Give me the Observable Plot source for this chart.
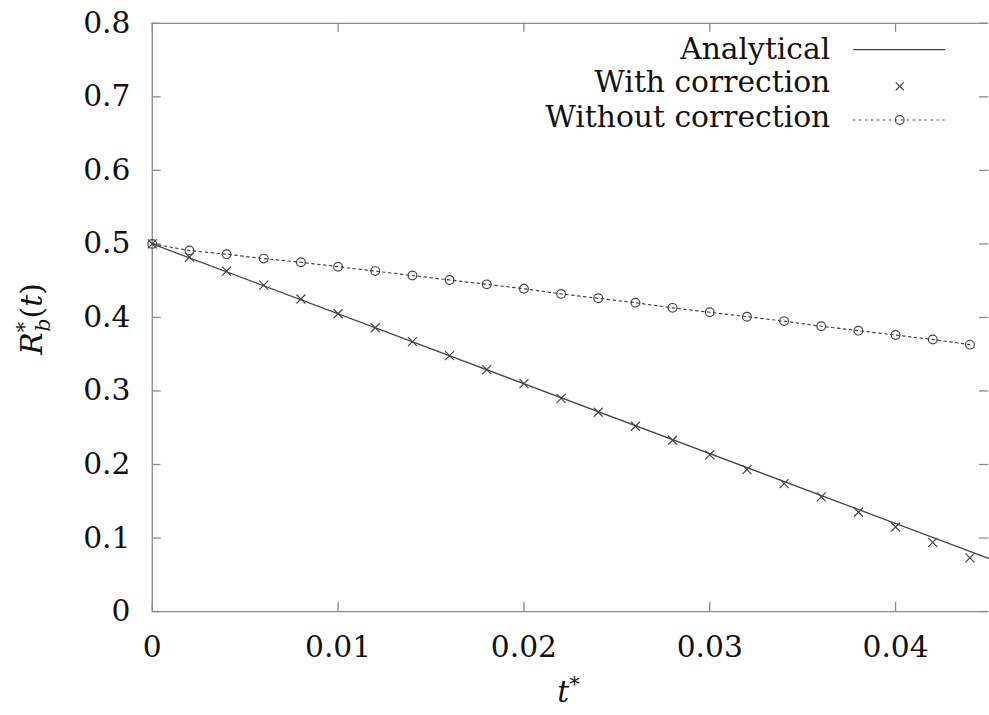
<!DOCTYPE html>
<html>
<head>
<meta charset="utf-8">
<script src="https://cdn.jsdelivr.net/npm/d3@7"></script>
<script src="https://cdn.jsdelivr.net/npm/@observablehq/plot@0.6"></script>
<style>
  html, body { margin: 0; padding: 0; background: #fff; overflow: hidden; }
  #chart svg { display: block; }
  #chart svg text { font-family: "DejaVu Serif", serif; }
</style>
</head>
<body>
<div id="chart"></div>
<script>
// Dimensionless time samples
const tSamples = [0, 0.002, 0.004, 0.006, 0.008, 0.010, 0.012, 0.014, 0.016, 0.018, 0.020,
  0.022, 0.024, 0.026, 0.028, 0.030, 0.032, 0.034, 0.036, 0.038, 0.040, 0.042, 0.044];

// Bubble radius, simulation with correction
const withCorrection = [0.500, 0.482, 0.463, 0.444, 0.425, 0.405, 0.386, 0.367, 0.348, 0.329, 0.310,
  0.290, 0.271, 0.252, 0.233, 0.213, 0.193, 0.174, 0.156, 0.135, 0.115, 0.094, 0.073];

// Bubble radius, simulation without correction
const withoutCorrection = [0.500, 0.491, 0.486, 0.480, 0.475, 0.469, 0.463, 0.457, 0.451, 0.445, 0.439,
  0.432, 0.426, 0.420, 0.413, 0.407, 0.401, 0.395, 0.388, 0.382, 0.376, 0.370, 0.363];

// Analytical solution (linear in time)
const analyticalT = [0, 0.045];
const analyticalR = [0.5, 0.0722];

const xTicks = [0, 0.01, 0.02, 0.03, 0.04];
const yTicks = [0, 0.1, 0.2, 0.3, 0.4, 0.5, 0.6, 0.7, 0.8];
const legendLabels = ["Analytical", "With correction", "Without correction"];

const withRows = tSamples.map((t, i) => ({t, r: withCorrection[i]}));
const withoutRows = tSamples.map((t, i) => ({t, r: withoutCorrection[i]}));
const analyticalRows = analyticalT.map((t, i) => ({t, r: analyticalR[i]}));

const ink = "#444";
const frame = "#8a8a8a";
const fmtX = d => d === 0 ? "0" : String(+d.toFixed(2));
const fmtY = d => d === 0 ? "0" : String(+d.toFixed(1));
const fs = 30;

// frame size in pixels, used to keep the tick marks short and inward
const W = 997, H = 715, mL = 153, mR = 1, mT = 23, mB = 99;
const innerW = W - mL - mR, innerH = H - mT - mB, tickLen = 9;

const chart = Plot.plot({
  width: W,
  height: H,
  marginLeft: mL,
  marginRight: mR,
  marginTop: mT,
  marginBottom: mB,
  style: {fontSize: fs + "px", color: "#111", background: "#fff"},
  x: {domain: [0, 0.045]},
  y: {domain: [0, 0.8]},
  marks: [
    // tick labels
    Plot.axisX({anchor: "bottom", ticks: xTicks, tickFormat: fmtX, tickSize: 0, tickPadding: 25, label: null, fill: "#111"}),
    Plot.axisY({anchor: "left", ticks: yTicks, tickFormat: fmtY, tickSize: 0, tickPadding: 22, label: null, fill: "#111"}),
    // inward tick marks on all four sides
    Plot.tickX(xTicks, {x: d => d, insetTop: innerH - tickLen, stroke: frame, strokeWidth: 1.3}),
    Plot.tickX(xTicks, {x: d => d, insetBottom: innerH - tickLen, stroke: frame, strokeWidth: 1.3}),
    Plot.tickY(yTicks, {y: d => d, insetRight: innerW - tickLen, stroke: frame, strokeWidth: 1.3}),
    Plot.tickY(yTicks, {y: d => d, insetLeft: innerW - tickLen, stroke: frame, strokeWidth: 1.3}),
    // frame border (left, bottom, top)
    Plot.ruleX([0], {stroke: frame, strokeWidth: 1.3}),
    Plot.ruleY([0, 0.8], {stroke: frame, strokeWidth: 1.3}),
    // series
    Plot.line(analyticalRows, {x: "t", y: "r", stroke: ink, strokeWidth: 1.3}),
    Plot.line(withoutRows, {x: "t", y: "r", stroke: ink, strokeWidth: 1.2, strokeDasharray: "2.5,3.5"}),
    Plot.dot(withoutRows, {x: "t", y: "r", r: 4.4, stroke: ink, strokeWidth: 1.2, fill: "none"}),
    Plot.dot(withRows, {x: "t", y: "r", symbol: "times", r: 4.2, stroke: ink, strokeWidth: 1.2})
  ]
});

document.getElementById("chart").appendChild(chart);

// Axis titles and legend, placed relative to the plot frame
const svg = d3.select(chart);
const frameTop = mT, frameBottom = H - mB;

const ylab = svg.append("text")
  .attr("transform", `translate(42,${(frameTop + frameBottom) / 2 + 2}) rotate(-90)`)
  .attr("text-anchor", "middle")
  .attr("font-size", fs)
  .attr("fill", "#111");
ylab.append("tspan").attr("font-style", "italic").text("R");
ylab.append("tspan").attr("font-size", 21).attr("dy", -11).text("*");
ylab.append("tspan").attr("font-style", "italic").attr("font-size", 21).attr("dx", -10).attr("dy", 19).text("b");
ylab.append("tspan").attr("dy", -8).text("(");
ylab.append("tspan").attr("font-style", "italic").text("t");
ylab.append("tspan").text(")");

const xlab = svg.append("text")
  .attr("x", 573)
  .attr("y", 708)
  .attr("text-anchor", "middle")
  .attr("font-size", fs)
  .attr("fill", "#111");
xlab.append("tspan").attr("font-style", "italic").text("t");
xlab.append("tspan").attr("font-size", 21).attr("dy", -11).text("*");

const legend = svg.append("g").attr("font-size", fs).attr("fill", "#111");
const baselines = [59, 93, 128];
legendLabels.forEach((label, i) => {
  legend.append("text")
    .attr("x", 837).attr("y", baselines[i])
    .attr("text-anchor", "end")
    .text(label);
});
const sx0 = 860, sx1 = 953, sxm = 907;
legend.append("line")
  .attr("x1", sx0).attr("x2", sx1).attr("y1", 50).attr("y2", 50)
  .attr("stroke", ink).attr("stroke-width", 1.3);
legend.append("path")
  .attr("d", `M${sxm - 4},${87 - 4}L${sxm + 4},${87 + 4}M${sxm - 4},${87 + 4}L${sxm + 4},${87 - 4}`)
  .attr("stroke", ink).attr("stroke-width", 1.2).attr("fill", "none");
legend.append("line")
  .attr("x1", sx0).attr("x2", sx1).attr("y1", 121).attr("y2", 121)
  .attr("stroke", ink).attr("stroke-width", 1.2).attr("stroke-dasharray", "2.5,3.5");
legend.append("circle")
  .attr("cx", sxm).attr("cy", 121).attr("r", 4.4)
  .attr("stroke", ink).attr("stroke-width", 1.2).attr("fill", "none");
</script>
</body>
</html>
